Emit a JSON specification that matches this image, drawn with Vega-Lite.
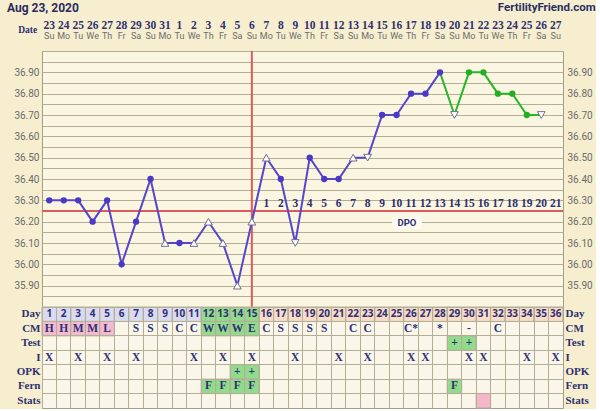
{
  "$schema": "https://vega.github.io/schema/vega-lite/v6.json",
  "background": "#f6eecf",
  "padding": {"left": 7, "top": 1, "right": 0, "bottom": 0},
  "bounds": "flush",
  "spacing": 0,
  "config": {
    "view": {"fill": "#fbf6e1", "stroke": "#a29e86"}
  },
  "datasets": {
    "header": [
      {"day": 1, "date": "23", "wd": "Su"}, {"day": 2, "date": "24", "wd": "Mo"}, {"day": 3, "date": "25", "wd": "Tu"},
      {"day": 4, "date": "26", "wd": "We"}, {"day": 5, "date": "27", "wd": "Th"}, {"day": 6, "date": "28", "wd": "Fr"},
      {"day": 7, "date": "29", "wd": "Sa"}, {"day": 8, "date": "30", "wd": "Su"}, {"day": 9, "date": "31", "wd": "Mo"},
      {"day": 10, "date": "1", "wd": "Tu"}, {"day": 11, "date": "2", "wd": "We"}, {"day": 12, "date": "3", "wd": "Th"},
      {"day": 13, "date": "4", "wd": "Fr"}, {"day": 14, "date": "5", "wd": "Sa"}, {"day": 15, "date": "6", "wd": "Su"},
      {"day": 16, "date": "7", "wd": "Mo"}, {"day": 17, "date": "8", "wd": "Tu"}, {"day": 18, "date": "9", "wd": "We"},
      {"day": 19, "date": "10", "wd": "Th"}, {"day": 20, "date": "11", "wd": "Fr"}, {"day": 21, "date": "12", "wd": "Sa"},
      {"day": 22, "date": "13", "wd": "Su"}, {"day": 23, "date": "14", "wd": "Mo"}, {"day": 24, "date": "15", "wd": "Tu"},
      {"day": 25, "date": "16", "wd": "We"}, {"day": 26, "date": "17", "wd": "Th"}, {"day": 27, "date": "18", "wd": "Fr"},
      {"day": 28, "date": "19", "wd": "Sa"}, {"day": 29, "date": "20", "wd": "Su"}, {"day": 30, "date": "21", "wd": "Mo"},
      {"day": 31, "date": "22", "wd": "Tu"}, {"day": 32, "date": "23", "wd": "We"}, {"day": 33, "date": "24", "wd": "Th"},
      {"day": 34, "date": "25", "wd": "Fr"}, {"day": 35, "date": "26", "wd": "Sa"}, {"day": 36, "date": "27", "wd": "Su"}
    ],
    "labels": [
      {"label": "Aug 23, 2020", "day": 1, "side": "left"},
      {"label": "FertilityFriend.com", "day": 36, "side": "right"},
      {"label": "Date", "day": 1, "side": "date"}
    ],
    "temps": [
      {"day": 1, "temp": 36.3, "kind": "dot", "part": "main"},
      {"day": 2, "temp": 36.3, "kind": "dot", "part": "main"},
      {"day": 3, "temp": 36.3, "kind": "dot", "part": "main"},
      {"day": 4, "temp": 36.2, "kind": "dot", "part": "main"},
      {"day": 5, "temp": 36.3, "kind": "dot", "part": "main"},
      {"day": 6, "temp": 36.0, "kind": "dot", "part": "main"},
      {"day": 7, "temp": 36.2, "kind": "dot", "part": "main"},
      {"day": 8, "temp": 36.4, "kind": "dot", "part": "main"},
      {"day": 9, "temp": 36.1, "kind": "up", "part": "main"},
      {"day": 10, "temp": 36.1, "kind": "dot", "part": "main"},
      {"day": 11, "temp": 36.1, "kind": "up", "part": "main"},
      {"day": 12, "temp": 36.2, "kind": "up", "part": "main"},
      {"day": 13, "temp": 36.1, "kind": "up", "part": "main"},
      {"day": 14, "temp": 35.9, "kind": "up", "part": "main"},
      {"day": 15, "temp": 36.2, "kind": "up", "part": "main"},
      {"day": 16, "temp": 36.5, "kind": "up", "part": "main"},
      {"day": 17, "temp": 36.4, "kind": "dot", "part": "main"},
      {"day": 18, "temp": 36.1, "kind": "down", "part": "main"},
      {"day": 19, "temp": 36.5, "kind": "dot", "part": "main"},
      {"day": 20, "temp": 36.4, "kind": "dot", "part": "main"},
      {"day": 21, "temp": 36.4, "kind": "dot", "part": "main"},
      {"day": 22, "temp": 36.5, "kind": "up", "part": "main"},
      {"day": 23, "temp": 36.5, "kind": "down", "part": "main"},
      {"day": 24, "temp": 36.7, "kind": "dot", "part": "main"},
      {"day": 25, "temp": 36.7, "kind": "dot", "part": "main"},
      {"day": 26, "temp": 36.8, "kind": "dot", "part": "main"},
      {"day": 27, "temp": 36.8, "kind": "dot", "part": "main"},
      {"day": 28, "temp": 36.9, "kind": "dot", "part": "main"},
      {"day": 29, "temp": 36.7, "kind": "down", "part": "late"},
      {"day": 30, "temp": 36.9, "kind": "dot", "part": "late"},
      {"day": 31, "temp": 36.9, "kind": "dot", "part": "late"},
      {"day": 32, "temp": 36.8, "kind": "dot", "part": "late"},
      {"day": 33, "temp": 36.8, "kind": "dot", "part": "late"},
      {"day": 34, "temp": 36.7, "kind": "dot", "part": "late"},
      {"day": 35, "temp": 36.7, "kind": "down", "part": "late"}
    ],
    "lines": [{"coverline": 36.25, "ovday": 15}],
    "dpo": [
      {"day": 16, "n": "1"}, {"day": 17, "n": "2"}, {"day": 18, "n": "3"}, {"day": 19, "n": "4"},
      {"day": 20, "n": "5"}, {"day": 21, "n": "6"}, {"day": 22, "n": "7"}, {"day": 23, "n": "8"},
      {"day": 24, "n": "9"}, {"day": 25, "n": "10"}, {"day": 26, "n": "11"}, {"day": 27, "n": "12"},
      {"day": 28, "n": "13"}, {"day": 29, "n": "14"}, {"day": 30, "n": "15"}, {"day": 31, "n": "16"},
      {"day": 32, "n": "17"}, {"day": 33, "n": "18"}, {"day": 34, "n": "19"}, {"day": 35, "n": "20"},
      {"day": 36, "n": "21"}
    ],
    "cells": [
      {"day": 1, "row": "Day", "txt": "1", "cat": "pre"}, {"day": 2, "row": "Day", "txt": "2", "cat": "pre"},
      {"day": 3, "row": "Day", "txt": "3", "cat": "pre"}, {"day": 4, "row": "Day", "txt": "4", "cat": "pre"},
      {"day": 5, "row": "Day", "txt": "5", "cat": "pre"}, {"day": 6, "row": "Day", "txt": "6", "cat": "pre"},
      {"day": 7, "row": "Day", "txt": "7", "cat": "pre"}, {"day": 8, "row": "Day", "txt": "8", "cat": "pre"},
      {"day": 9, "row": "Day", "txt": "9", "cat": "pre"}, {"day": 10, "row": "Day", "txt": "10", "cat": "pre"},
      {"day": 11, "row": "Day", "txt": "11", "cat": "pre"}, {"day": 12, "row": "Day", "txt": "12", "cat": "fert"},
      {"day": 13, "row": "Day", "txt": "13", "cat": "fert"}, {"day": 14, "row": "Day", "txt": "14", "cat": "fert"},
      {"day": 15, "row": "Day", "txt": "15", "cat": "fert"}, {"day": 16, "row": "Day", "txt": "16", "cat": "post"},
      {"day": 17, "row": "Day", "txt": "17", "cat": "post"}, {"day": 18, "row": "Day", "txt": "18", "cat": "post"},
      {"day": 19, "row": "Day", "txt": "19", "cat": "post"}, {"day": 20, "row": "Day", "txt": "20", "cat": "post"},
      {"day": 21, "row": "Day", "txt": "21", "cat": "post"}, {"day": 22, "row": "Day", "txt": "22", "cat": "post"},
      {"day": 23, "row": "Day", "txt": "23", "cat": "post"}, {"day": 24, "row": "Day", "txt": "24", "cat": "post"},
      {"day": 25, "row": "Day", "txt": "25", "cat": "post"}, {"day": 26, "row": "Day", "txt": "26", "cat": "post"},
      {"day": 27, "row": "Day", "txt": "27", "cat": "post"}, {"day": 28, "row": "Day", "txt": "28", "cat": "post"},
      {"day": 29, "row": "Day", "txt": "29", "cat": "post"}, {"day": 30, "row": "Day", "txt": "30", "cat": "post"},
      {"day": 31, "row": "Day", "txt": "31", "cat": "post"}, {"day": 32, "row": "Day", "txt": "32", "cat": "post"},
      {"day": 33, "row": "Day", "txt": "33", "cat": "post"}, {"day": 34, "row": "Day", "txt": "34", "cat": "post"},
      {"day": 35, "row": "Day", "txt": "35", "cat": "post"}, {"day": 36, "row": "Day", "txt": "36", "cat": "post"},
      {"day": 1, "row": "CM", "txt": "H", "cat": "menses"}, {"day": 2, "row": "CM", "txt": "H", "cat": "menses"},
      {"day": 3, "row": "CM", "txt": "M", "cat": "menses"}, {"day": 4, "row": "CM", "txt": "M", "cat": "menses"},
      {"day": 5, "row": "CM", "txt": "L", "cat": "menses"}, {"day": 7, "row": "CM", "txt": "S"},
      {"day": 8, "row": "CM", "txt": "S"}, {"day": 9, "row": "CM", "txt": "S"},
      {"day": 10, "row": "CM", "txt": "C"}, {"day": 11, "row": "CM", "txt": "C"},
      {"day": 12, "row": "CM", "txt": "W", "cat": "fert"}, {"day": 13, "row": "CM", "txt": "W", "cat": "fert"},
      {"day": 14, "row": "CM", "txt": "W", "cat": "fert"}, {"day": 15, "row": "CM", "txt": "E", "cat": "fert"},
      {"day": 16, "row": "CM", "txt": "C"}, {"day": 17, "row": "CM", "txt": "S"},
      {"day": 18, "row": "CM", "txt": "S"}, {"day": 19, "row": "CM", "txt": "S"},
      {"day": 20, "row": "CM", "txt": "S"}, {"day": 22, "row": "CM", "txt": "C"},
      {"day": 23, "row": "CM", "txt": "C"}, {"day": 26, "row": "CM", "txt": "C*"},
      {"day": 28, "row": "CM", "txt": "*"}, {"day": 30, "row": "CM", "txt": "-"},
      {"day": 32, "row": "CM", "txt": "C"},
      {"day": 29, "row": "Test", "txt": "+", "cat": "fert"}, {"day": 30, "row": "Test", "txt": "+", "cat": "fert"},
      {"day": 1, "row": "I", "txt": "X"}, {"day": 3, "row": "I", "txt": "X"}, {"day": 5, "row": "I", "txt": "X"},
      {"day": 7, "row": "I", "txt": "X"}, {"day": 11, "row": "I", "txt": "X"}, {"day": 13, "row": "I", "txt": "X"},
      {"day": 15, "row": "I", "txt": "X"}, {"day": 18, "row": "I", "txt": "X"}, {"day": 21, "row": "I", "txt": "X"},
      {"day": 23, "row": "I", "txt": "X"}, {"day": 26, "row": "I", "txt": "X"}, {"day": 27, "row": "I", "txt": "X"},
      {"day": 30, "row": "I", "txt": "X"}, {"day": 31, "row": "I", "txt": "X"}, {"day": 34, "row": "I", "txt": "X"},
      {"day": 36, "row": "I", "txt": "X"},
      {"day": 14, "row": "OPK", "txt": "+", "cat": "fert"}, {"day": 15, "row": "OPK", "txt": "+", "cat": "fert"},
      {"day": 12, "row": "Fern", "txt": "F", "cat": "fert"}, {"day": 13, "row": "Fern", "txt": "F", "cat": "fert"},
      {"day": 14, "row": "Fern", "txt": "F", "cat": "fert"}, {"day": 15, "row": "Fern", "txt": "F", "cat": "fert"},
      {"day": 29, "row": "Fern", "txt": "F", "cat": "fert"},
      {"day": 31, "row": "Stats", "cat": "flag"}
    ]
  },
  "resolve": {"scale": {"x": "independent", "y": "independent"}},
  "vconcat": [
    {
      "width": 521,
      "height": 50,
      "view": {"fill": null, "stroke": null},
      "data": {"name": "header"},
      "encoding": {
        "x": {
          "field": "day", "type": "ordinal",
          "scale": {"domain": [1,2,3,4,5,6,7,8,9,10,11,12,13,14,15,16,17,18,19,20,21,22,23,24,25,26,27,28,29,30,31,32,33,34,35,36], "paddingInner": 0, "paddingOuter": 0},
          "axis": null
        }
      },
      "layer": [
        {
          "mark": {"type": "text", "font": "Liberation Serif", "fontWeight": "bold", "fontSize": 11.5, "color": "#2e3070", "dy": -0.5},
          "encoding": {
            "y": {
              "datum": "d", "type": "ordinal",
              "scale": {"domain": ["t", "d", "w"], "paddingInner": 0, "paddingOuter": 0},
              "axis": null
            },
            "text": {"field": "date"}
          }
        },
        {
          "mark": {"type": "text", "font": "Roboto", "fontSize": 9, "color": "#6d6d6d", "dy": -7},
          "encoding": {
            "y": {"datum": "w", "type": "ordinal", "axis": null},
            "text": {"field": "wd"}
          }
        },
        {
          "data": {"name": "labels"},
          "transform": [{"filter": "datum.side == 'left'"}],
          "mark": {"type": "text", "font": "Roboto", "fontWeight": "bold", "fontSize": 12, "color": "#2a2c5e", "align": "left", "dx": -42.2, "dy": -1.5},
          "encoding": {
            "y": {"datum": "t", "type": "ordinal", "axis": null},
            "text": {"field": "label"}
          }
        },
        {
          "data": {"name": "labels"},
          "transform": [{"filter": "datum.side == 'right'"}],
          "mark": {"type": "text", "font": "Roboto", "fontWeight": "bold", "fontSize": 11.5, "color": "#2a2f62", "align": "right", "dx": 40, "dy": -1.5},
          "encoding": {
            "y": {"datum": "t", "type": "ordinal", "axis": null},
            "text": {"field": "label"}
          }
        },
        {
          "data": {"name": "labels"},
          "transform": [{"filter": "datum.side == 'date'"}],
          "mark": {"type": "text", "font": "Liberation Serif", "fontWeight": "bold", "fontSize": 9.5, "color": "#2e3070", "align": "right", "dx": -12, "dy": 3.5},
          "encoding": {
            "y": {"datum": "d", "type": "ordinal", "axis": null},
            "text": {"field": "label"}
          }
        }
      ]
    },
    {
      "width": 521,
      "height": 256,
      "data": {"name": "temps"},
      "resolve": {"axis": {"y": "independent"}},
      "layer": [
        {
          "data": {"name": "lines"},
          "mark": {"type": "rule", "color": "#e05a5a", "strokeWidth": 2},
          "encoding": {
            "x": {
              "field": "ovday", "type": "quantitative",
              "scale": {"domain": [0.5, 36.5], "nice": false, "zero": false},
              "axis": {
                "values": [0.5,1.5,2.5,3.5,4.5,5.5,6.5,7.5,8.5,9.5,10.5,11.5,12.5,13.5,14.5,15.5,16.5,17.5,18.5,19.5,20.5,21.5,22.5,23.5,24.5,25.5,26.5,27.5,28.5,29.5,30.5,31.5,32.5,33.5,34.5,35.5,36.5],
                "grid": true, "gridColor": "#b3ae94", "gridOpacity": 1, "labels": false, "ticks": false, "domain": false, "title": null
              }
            }
          }
        },
        {
          "data": {"name": "lines"},
          "mark": {"type": "rule", "color": "#e05a5a", "strokeWidth": 2},
          "encoding": {
            "y": {
              "field": "coverline", "type": "quantitative",
              "scale": {"domain": [35.8, 37.0], "nice": false, "zero": false},
              "axis": {
                "orient": "left", "title": null,
                "values": [35.8,35.85,35.9,35.95,36.0,36.05,36.1,36.15,36.2,36.25,36.3,36.35,36.4,36.45,36.5,36.55,36.6,36.65,36.7,36.75,36.8,36.85,36.9,36.95,37.0],
                "grid": true, "gridColor": "#b3ae94", "gridOpacity": 1, "ticks": false, "domain": false, "labelPadding": 3,
                "labelExpr": "abs(datum.value * 10 - round(datum.value * 10)) < 0.01 && datum.value > 35.85 && datum.value < 36.95 ? format(datum.value, '.2f') : ''",
                "labelFont": "Roboto", "labelFontSize": 10, "labelColor": "#6b6b6b"
              }
            }
          }
        },
        {
          "transform": [{"filter": "datum.day <= 28"}],
          "mark": {"type": "line", "color": "#5646cc", "strokeWidth": 2},
          "encoding": {
            "x": {"field": "day", "type": "quantitative", "axis": null},
            "y": {"field": "temp", "type": "quantitative", "axis": null}
          }
        },
        {
          "transform": [{"filter": "datum.day >= 28"}],
          "mark": {"type": "line", "color": "#27b627", "strokeWidth": 2},
          "encoding": {
            "x": {"field": "day", "type": "quantitative", "axis": null},
            "y": {"field": "temp", "type": "quantitative", "axis": null}
          }
        },
        {
          "data": {"name": "dpo"},
          "mark": {"type": "text", "font": "Liberation Serif", "fontWeight": "bold", "fontSize": 11.5, "color": "#2e3070"},
          "encoding": {
            "x": {"field": "day", "type": "quantitative", "axis": null},
            "y": {"datum": 36.283, "type": "quantitative", "axis": null},
            "text": {"field": "n"}
          }
        },
        {
          "data": {"values": [{"label": "DPO"}]},
          "mark": {"type": "point", "shape": "M-1,-0.4L1,-0.4L1,0.4L-1,0.4Z", "size": 900, "filled": true, "fill": "#fdfbf1", "opacity": 1, "strokeWidth": 0},
          "encoding": {
            "x": {"datum": 25.72, "type": "quantitative", "axis": null},
            "y": {"datum": 36.194, "type": "quantitative", "axis": null}
          }
        },
        {
          "data": {"values": [{"label": "DPO"}]},
          "mark": {"type": "text", "font": "Roboto", "fontWeight": "bold", "fontSize": 9.5, "color": "#2e3070"},
          "encoding": {
            "x": {"datum": 25.72, "type": "quantitative", "axis": null},
            "y": {"datum": 36.194, "type": "quantitative", "axis": null},
            "text": {"field": "label"}
          }
        },
        {
          "transform": [{"filter": "datum.kind == 'dot'"}],
          "mark": {"type": "point", "filled": true, "size": 40, "opacity": 1},
          "encoding": {
            "x": {"field": "day", "type": "quantitative", "axis": null},
            "y": {"field": "temp", "type": "quantitative", "axis": null},
            "color": {"field": "part", "type": "nominal", "scale": {"domain": ["main", "late"], "range": ["#4a38c6", "#22b022"]}, "legend": null}
          }
        },
        {
          "transform": [{"filter": "datum.kind != 'dot'"}],
          "mark": {"type": "point", "filled": true, "fill": "#ffffff", "stroke": "#6f6f95", "strokeWidth": 1, "size": 60, "opacity": 1},
          "encoding": {
            "x": {"field": "day", "type": "quantitative", "axis": null},
            "y": {
              "field": "temp", "type": "quantitative",
              "axis": {
                "orient": "right", "title": null,
                "values": [35.8,35.85,35.9,35.95,36.0,36.05,36.1,36.15,36.2,36.25,36.3,36.35,36.4,36.45,36.5,36.55,36.6,36.65,36.7,36.75,36.8,36.85,36.9,36.95,37.0],
                "grid": false, "ticks": false, "domain": false, "labelPadding": 4,
                "labelExpr": "abs(datum.value * 10 - round(datum.value * 10)) < 0.01 && datum.value > 35.85 && datum.value < 36.95 ? format(datum.value, '.2f') : ''",
                "labelFont": "Roboto", "labelFontSize": 10, "labelColor": "#6b6b6b"
              }
            },
            "shape": {"field": "kind", "type": "nominal", "scale": {"domain": ["up", "down"], "range": ["triangle-up", "triangle-down"]}, "legend": null}
          }
        }
      ]
    },
    {
      "width": 521,
      "height": 101,
      "data": {"name": "cells"},
      "view": {"fill": "#faf7ea", "stroke": "#a29e86"},
      "resolve": {"axis": {"y": "independent"}},
      "encoding": {
        "x": {
          "field": "day", "type": "ordinal",
          "scale": {"domain": [1,2,3,4,5,6,7,8,9,10,11,12,13,14,15,16,17,18,19,20,21,22,23,24,25,26,27,28,29,30,31,32,33,34,35,36], "paddingInner": 0, "paddingOuter": 0},
          "axis": {"grid": true, "bandPosition": 0, "gridColor": "#b3ae94", "gridOpacity": 1, "labels": false, "ticks": false, "domain": false, "title": null}
        }
      },
      "layer": [
        {
          "transform": [{"filter": "datum.cat != null"}],
          "mark": {"type": "rect", "stroke": "#b3ae94", "strokeWidth": 1},
          "encoding": {
            "y": {
              "field": "row", "type": "ordinal",
              "scale": {"domain": ["Day", "CM", "Test", "I", "OPK", "Fern", "Stats"], "paddingInner": 0, "paddingOuter": 0},
              "axis": {
                "orient": "left", "title": null, "grid": true, "bandPosition": 0, "gridColor": "#b3ae94", "gridOpacity": 1,
                "ticks": false, "domain": false, "labelPadding": 2,
                "labelFont": "Liberation Serif", "labelFontWeight": "bold", "labelFontSize": 11, "labelColor": "#2e3070"
              }
            },
            "fill": {
              "field": "cat", "type": "nominal",
              "scale": {"domain": ["pre", "fert", "post", "menses", "flag"], "range": ["#dadaf0", "#92da8c", "#f8dcc6", "#f4bad0", "#f6b6ca"]},
              "legend": null
            }
          }
        },
        {
          "transform": [{"filter": "datum.row == 'Day'"}],
          "mark": {"type": "text", "font": "Noto Sans", "fontWeight": "bold", "fontSize": 10, "color": "#2f3175"},
          "encoding": {
            "y": {"field": "row", "type": "ordinal", "axis": null},
            "text": {"field": "txt"}
          }
        },
        {
          "transform": [{"filter": "datum.row != 'Day' && datum.txt != null"}],
          "mark": {"type": "text", "font": "Liberation Serif", "fontWeight": "bold", "fontSize": 11.5, "color": "#2f3175"},
          "encoding": {
            "y": {
              "field": "row", "type": "ordinal",
              "axis": {
                "orient": "right", "title": null, "grid": false, "ticks": false, "domain": false, "labelPadding": 2,
                "labelFont": "Liberation Serif", "labelFontWeight": "bold", "labelFontSize": 11, "labelColor": "#2e3070"
              }
            },
            "text": {"field": "txt"}
          }
        }
      ]
    }
  ]
}
